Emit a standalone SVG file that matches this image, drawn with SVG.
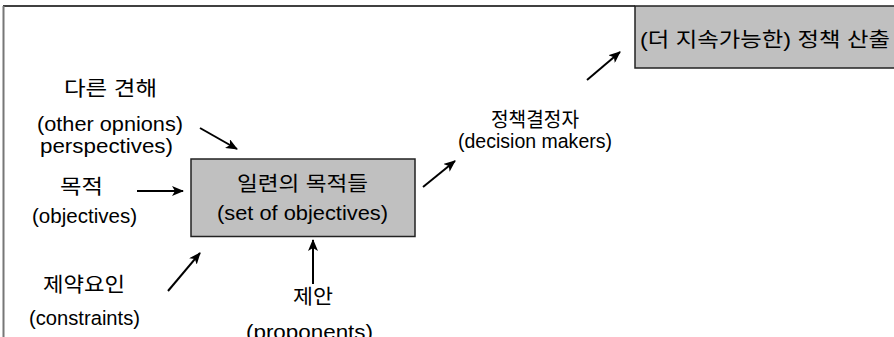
<svg xmlns="http://www.w3.org/2000/svg" width="894" height="337" viewBox="0 0 894 337">
  <style>
    text { font-family: "Liberation Sans", "Noto Sans CJK KR", sans-serif; font-size: 20.5px; fill: #000; text-anchor: middle; }
    .box { fill: #c0c0c0; stroke: #222; stroke-width: 1.5; }
    .arrow { stroke: #000; stroke-width: 2; fill: none; marker-end: url(#head); }
  </style>
  <defs>
    <marker id="head" viewBox="0 0 12 10" refX="11" refY="5" markerWidth="12" markerHeight="10" markerUnits="userSpaceOnUse" orient="auto">
      <path d="M0,0 L12,5 L0,10 L3,5 Z" fill="#000"/>
    </marker>
  </defs>
  <rect width="894" height="337" fill="#fff"/>

  <!-- outer frame: top and left edges -->
  <g id="frame">
    <line x1="3" y1="6" x2="635" y2="6" stroke="#000" stroke-width="1.5"/>
    <line x1="3.5" y1="6" x2="3.5" y2="337" stroke="#777" stroke-width="2"/>
  </g>

  <g id="policy-output">
    <rect class="box" x="635" y="6" width="270" height="62"/>
    <text x="765" y="47" textLength="250" lengthAdjust="spacingAndGlyphs">(더 지속가능한) 정책 산출</text>
  </g>

  <g id="set-of-objectives">
    <rect class="box" x="191" y="159" width="224" height="77.5"/>
    <text x="302.5" y="191" textLength="131" lengthAdjust="spacingAndGlyphs">일련의 목적들</text>
    <text x="302.5" y="220" textLength="171" lengthAdjust="spacingAndGlyphs">(set of objectives)</text>
  </g>

  <g id="other-opinions">
    <text x="110.5" y="96" textLength="93" lengthAdjust="spacingAndGlyphs">다른 견해</text>
    <text x="110" y="131" textLength="146" lengthAdjust="spacingAndGlyphs">(other  opnions)</text>
    <text x="106.5" y="152.5" textLength="133" lengthAdjust="spacingAndGlyphs">perspectives)</text>
  </g>

  <g id="objectives">
    <text x="81.5" y="194" textLength="43" lengthAdjust="spacingAndGlyphs">목적</text>
    <text x="84.5" y="223" textLength="105" lengthAdjust="spacingAndGlyphs">(objectives)</text>
  </g>

  <g id="constraints">
    <text x="84" y="292" textLength="82" lengthAdjust="spacingAndGlyphs">제약요인</text>
    <text x="84.5" y="325" textLength="111" lengthAdjust="spacingAndGlyphs">(constraints)</text>
  </g>

  <g id="proponents">
    <text x="313" y="304" textLength="40" lengthAdjust="spacingAndGlyphs">제안</text>
    <text x="309.5" y="339" textLength="127" lengthAdjust="spacingAndGlyphs">(proponents)</text>
  </g>

  <g id="decision-makers">
    <text x="535" y="127" textLength="88" lengthAdjust="spacingAndGlyphs">정책결정자</text>
    <text x="535" y="148" textLength="154" lengthAdjust="spacingAndGlyphs">(decision  makers)</text>
  </g>

  <g id="connectors">
    <line class="arrow" x1="200" y1="128" x2="237" y2="149"/>
    <line class="arrow" x1="137" y1="191" x2="183" y2="191"/>
    <line class="arrow" x1="168" y1="291" x2="200" y2="253"/>
    <line class="arrow" x1="313" y1="284" x2="313" y2="240"/>
    <line class="arrow" x1="423" y1="187" x2="455" y2="161"/>
    <line class="arrow" x1="587" y1="80" x2="620" y2="52"/>
  </g>
</svg>
